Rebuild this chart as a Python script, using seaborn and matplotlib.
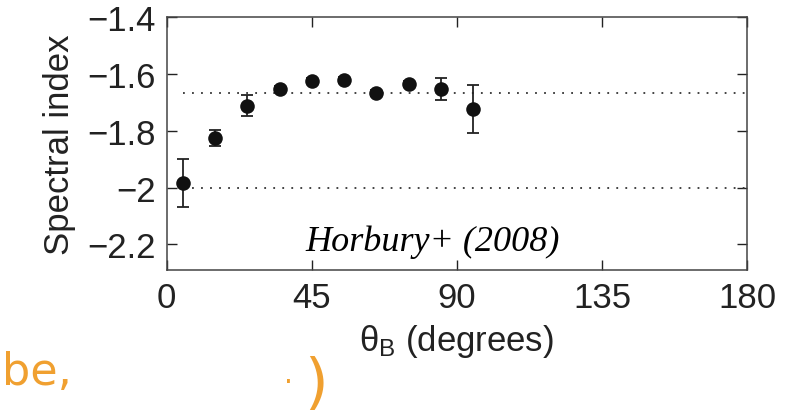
import numpy as np
import pandas as pd
import matplotlib
matplotlib.use("Agg")
import matplotlib.pyplot as plt
import seaborn as sns

# values
theta_b = [5, 15, 25, 35, 45, 55, 65, 75, 85, 95]
spec_index = [-1.984, -1.826, -1.711, -1.652, -1.623, -1.620, -1.666, -1.634, -1.652, -1.723]
spec_err = [0.085, 0.029, 0.036, 0.010, 0.010, 0.010, 0.010, 0.010, 0.038, 0.085]
ref_lines = [-5 / 3, -2.0]
x_ticks = [0, 45, 90, 135, 180]
y_ticks = [-1.4, -1.6, -1.8, -2.0, -2.2]
y_ticklabels = ["\u22121.4", "\u22121.6", "\u22121.8", "\u22122", "\u22122.2"]

df = pd.DataFrame({"theta": theta_b, "index": spec_index, "err": spec_err})

sns.set_style("ticks")
plt.rcParams["font.family"] = ["Liberation Sans", "DejaVu Sans"]
plt.rcParams["mathtext.fontset"] = "custom"
plt.rcParams["mathtext.rm"] = "Liberation Sans"
plt.rcParams["mathtext.it"] = "Liberation Sans"

fig = plt.figure(figsize=(7.85, 4.14), dpi=100)
ax = fig.add_axes([0.2123, 0.3454, 0.7394, 0.6104])

# dotted reference levels
for yv in ref_lines:
    ax.axhline(yv, xmin=5 / 180, xmax=1, color="#333333", ls=(0, (1, 4)), lw=1.3, zorder=1)

ax.errorbar(df["theta"], df["index"], yerr=df["err"], fmt="none",
            ecolor="#222222", elinewidth=1.3, capsize=4.5, capthick=1.3, zorder=2)
sns.scatterplot(data=df, x="theta", y="index", ax=ax, color="#111111",
                s=110, edgecolor="#111111", linewidth=0, zorder=3)

ax.set_xlim(0, 180)
ax.set_ylim(-2.29, -1.4)
ax.set_xticks(x_ticks)
ax.set_yticks(y_ticks)
ax.set_yticklabels(y_ticklabels)
ax.tick_params(direction="in", length=7, width=1, labelsize=25, colors="#222222",
               top=True, right=True, pad=8)
for sp in ax.spines.values():
    sp.set_color("#444444")
    sp.set_linewidth(1.1)

ax.set_xlabel(r"$\theta_{\rm B}$ (degrees)", fontsize=25, color="#222222", labelpad=6)
ax.set_ylabel("Spectral index", fontsize=25, color="#222222", labelpad=8)

# handwritten notes
ax.text(43, -2.19, "Horbury+ (2008)", fontsize=26, color="black",
        family=["Liberation Serif", "DejaVu Serif"], style="italic", va="center")
fig.text(0.002, 0.07, "be,", fontsize=32, color="#f0a030", family=["DejaVu Sans"])
fig.text(0.388, 0.03, ")", fontsize=44, color="#f0a030", family=["DejaVu Sans"])
fig.text(0.362, 0.075, ".", fontsize=20, color="#f0a030", family=["DejaVu Sans"])

fig.savefig("out.png", dpi=100)
